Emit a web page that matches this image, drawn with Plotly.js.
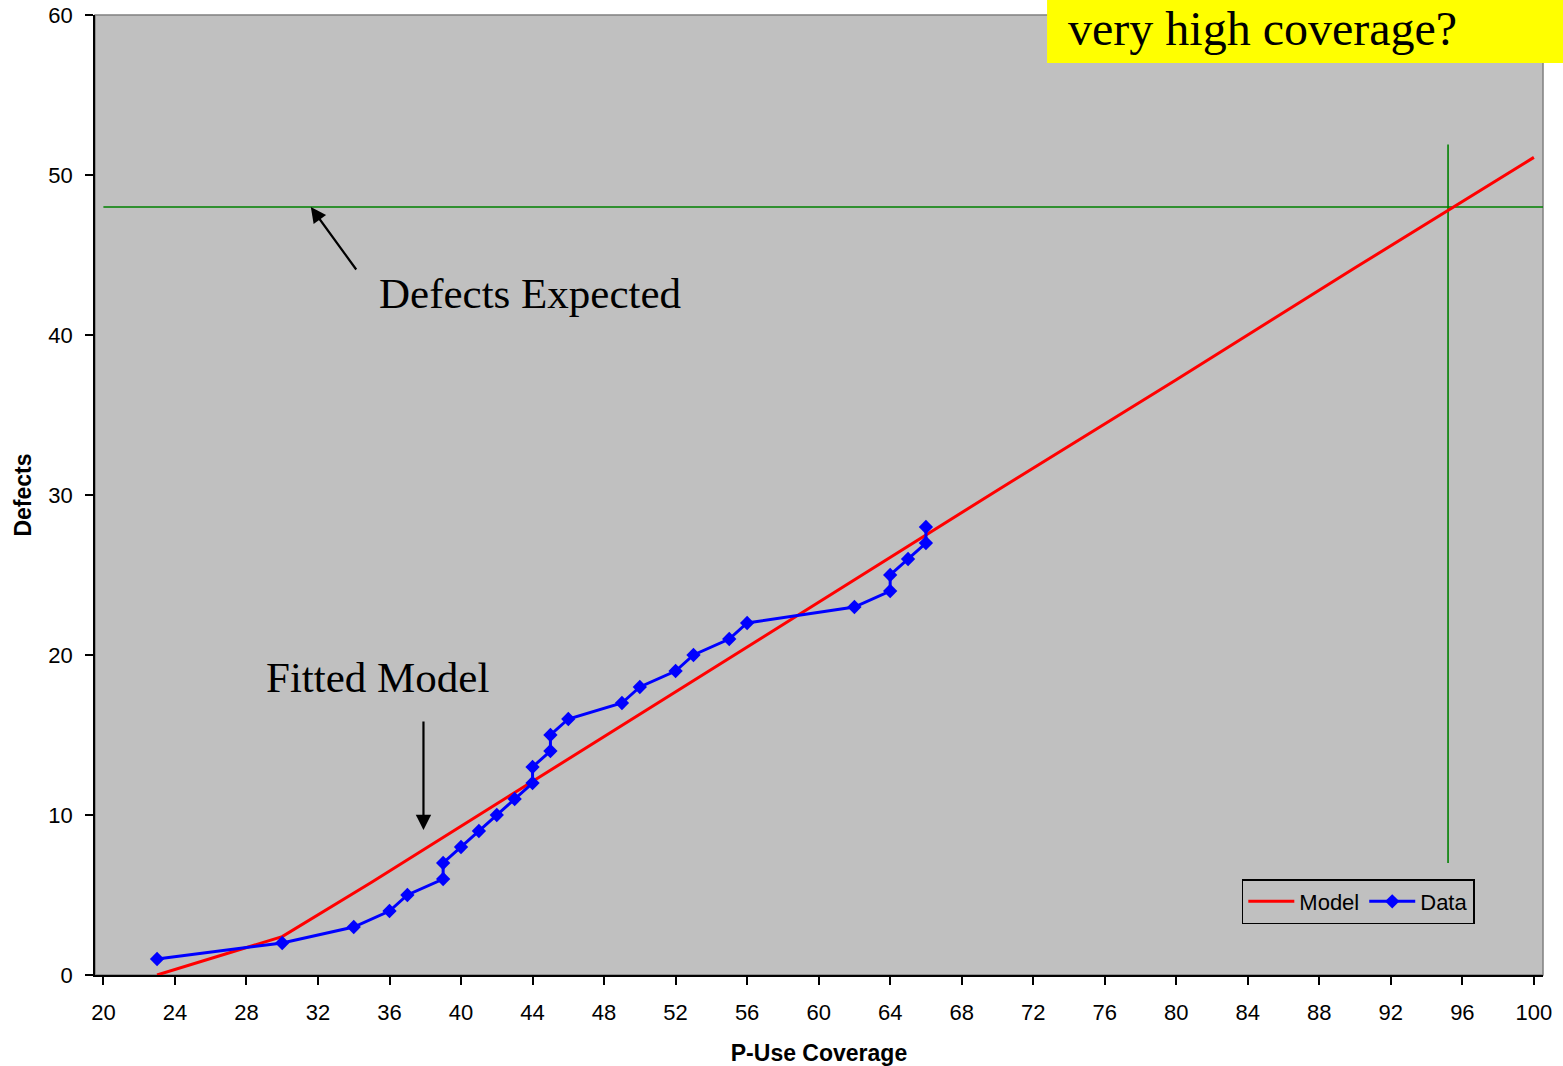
<!DOCTYPE html>
<html>
<head>
<meta charset="utf-8">
<script src="https://cdn.plot.ly/plotly-3.0.1.min.js"></script>
<style>html,body{margin:0;padding:0;background:#fff;}#chart{width:1563px;height:1066px;}</style>
</head>
<body>
<div id="chart"></div>
<script>
// Observed data
const dataX = [23, 30, 34, 36, 37, 39, 39, 40, 41, 42, 43, 44, 44, 45, 45, 46, 49, 50, 52, 53, 55, 56, 62, 64, 64, 65, 66, 66];
const dataY = [1, 2, 3, 4, 5, 6, 7, 8, 9, 10, 11, 12, 13, 14, 15, 16, 17, 18, 19, 20, 21, 22, 23, 24, 25, 26, 27, 28];
// Fitted model curve
const modelX = [23, 30, 35, 40, 45, 50, 55, 60, 65, 70, 80, 90, 100];
const modelY = [0, 2.4, 5.8, 9.3, 12.8, 16.3, 19.8, 23.3, 26.8, 30.3, 37.2, 44.2, 51.1];
// Axis ticks
const xTicks = [20, 24, 28, 32, 36, 40, 44, 48, 52, 56, 60, 64, 68, 72, 76, 80, 84, 88, 92, 96, 100];
const yTicks = [0, 10, 20, 30, 40, 50, 60];
// Reference lines
const expectedDefects = 48;
const targetCoverage = 95.2;
const vLineRange = [7, 51.9];

const traces = [
  {x: modelX, y: modelY, type: 'scatter', mode: 'lines', name: 'Model',
   line: {color: '#FF0000', width: 3}},
  {x: dataX, y: dataY, type: 'scatter', mode: 'lines+markers', name: 'Data',
   line: {color: '#0000FF', width: 3},
   marker: {symbol: 'diamond', size: 11, color: '#0000FF'}}
];

const serif = 'Liberation Serif, Times New Roman, serif';
const sans = 'Liberation Sans, Arial, sans-serif';

const layout = {
  width: 1563, height: 1066,
  margin: {l: 95, r: 20, t: 15, b: 91},
  paper_bgcolor: '#FFFFFF',
  plot_bgcolor: '#C0C0C0',
  showlegend: true,
  font: {family: sans, size: 22, color: '#000'},
  xaxis: {
    range: [19.53, 100.51], tickvals: xTicks, ticktext: xTicks.map(String),
    showgrid: false, zeroline: false, showline: true, linecolor: '#000', linewidth: 1.5,
    ticks: 'outside', ticklen: 8, tickwidth: 1.5, tickcolor: '#000',
    tickfont: {family: sans, size: 22}, ticklabelstandoff: 9,
    title: {text: 'P-Use Coverage', font: {family: sans, size: 23, weight: 'bold'}, standoff: 21}
  },
  yaxis: {
    range: [0, 60], tickvals: yTicks, ticktext: yTicks.map(String),
    showgrid: false, zeroline: false, showline: true, linecolor: '#000', linewidth: 1.5,
    ticks: 'outside', ticklen: 8, tickwidth: 1.5, tickcolor: '#000',
    tickfont: {family: sans, size: 22}, ticklabelstandoff: 8,
    title: {text: 'Defects', font: {family: sans, size: 23, weight: 'bold'}, standoff: 10}
  },
  legend: {
    orientation: 'h', x: 0.792, y: 0.1, xanchor: 'left', yanchor: 'top',
    bgcolor: '#C0C0C0', bordercolor: '#000', borderwidth: 1.5, itemwidth: 46,
    font: {family: sans, size: 22}
  },
  shapes: [
    {type: 'rect', xref: 'paper', yref: 'paper', x0: 0, x1: 1, y0: 0, y1: 1,
     line: {color: '#808080', width: 1.5}, layer: 'below'},
    {type: 'line', xref: 'x', yref: 'y', x0: 20, x1: 100.51, y0: expectedDefects, y1: expectedDefects,
     line: {color: '#008000', width: 1.6}, layer: 'below'},
    {type: 'line', xref: 'x', yref: 'y', x0: targetCoverage, x1: targetCoverage, y0: vLineRange[0], y1: vLineRange[1],
     line: {color: '#008000', width: 1.6}, layer: 'below'},
    {type: 'rect', xref: 'paper', yref: 'paper', x0: 0.6575, x1: 1.02, y0: 0.95, y1: 1.02,
     fillcolor: '#FFFF00', line: {width: 0}, layer: 'above'}
  ],
  annotations: [
    {xref: 'x', yref: 'y', x: 31.6, y: 48, ax: 34.2, ay: 44.0, axref: 'x', ayref: 'y',
     showarrow: true, arrowhead: 2, arrowsize: 1.4, arrowwidth: 2.2, arrowcolor: '#000', text: ''},
    {xref: 'x', yref: 'y', x: 37.9, y: 9.06, ax: 37.9, ay: 15.94, axref: 'x', ayref: 'y',
     showarrow: true, arrowhead: 2, arrowsize: 1.4, arrowwidth: 2.2, arrowcolor: '#000', text: ''},
    {xref: 'x', yref: 'y', x: 35.3, y: 42.6, xanchor: 'left', yanchor: 'middle', showarrow: false,
     text: 'Defects Expected', font: {family: serif, size: 43, color: '#000'}},
    {xref: 'x', yref: 'y', x: 29.0, y: 18.6, xanchor: 'left', yanchor: 'middle', showarrow: false,
     text: 'Fitted Model', font: {family: serif, size: 43, color: '#000'}},
    {xref: 'paper', yref: 'paper', x: (1066 - 95) / 1448, y: (975 - 28) / 960, xanchor: 'left', yanchor: 'middle',
     showarrow: false, text: 'very high coverage?', font: {family: serif, size: 48, color: '#000'}}
  ]
};

Plotly.newPlot('chart', traces, layout, {displayModeBar: false});
</script>
</body>
</html>
